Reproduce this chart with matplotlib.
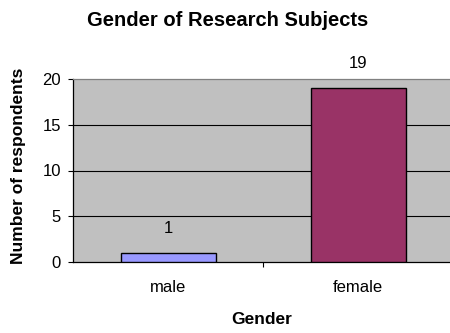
import matplotlib
matplotlib.use("Agg")
import matplotlib.pyplot as plt

categories = ["male", "female"]
counts = [1, 19]
bar_colors = ["#9999FF", "#993366"]
y_ticks = [0, 5, 10, 15, 20]

plt.rcParams['font.family'] = ['Liberation Sans', 'DejaVu Sans']

fig = plt.figure(figsize=(4.5, 3.33), dpi=100)
ax = fig.add_axes([73 / 450, 1 - 262 / 333, 380 / 450, (262 - 79) / 333])
ax.set_facecolor("#C0C0C0")

x = list(range(len(categories)))
bars = ax.bar(x, counts, width=0.5, color=bar_colors, edgecolor="black",
              linewidth=1.0, zorder=3)

for xi, v in zip(x, counts):
    ax.annotate(str(v), (xi, v), xytext=(0, 17.5), textcoords="offset points",
                ha="center", va="center", fontsize=12)

ax.set_xlim(-0.5, len(categories) - 0.5)
ax.set_ylim(0, 20)
ax.set_yticks(y_ticks)
ax.tick_params(axis="y", direction="out", length=3.6, width=0.8, labelsize=12, pad=5)

# major tick between categories, category names on minor ticks
ax.set_xticks([0.5])
ax.set_xticklabels([""])
ax.set_xticks(x, minor=True)
ax.set_xticklabels(categories, minor=True)
ax.tick_params(axis="x", which="major", direction="out", length=3.6, width=0.8)
ax.tick_params(axis="x", which="minor", length=0, labelsize=12, pad=13)

for yv in y_ticks[1:-1]:
    ax.axhline(yv, color="black", linewidth=0.8, zorder=1)

ax.spines["left"].set_color("black")
ax.spines["bottom"].set_color("black")
ax.spines["top"].set_color("#808080")
ax.spines["right"].set_color("#808080")
for s in ax.spines.values():
    s.set_linewidth(0.9)

fig.text(228 / 450, 1 - 26 / 333, "Gender of Research Subjects", ha="center",
         va="baseline", fontsize=14.5, fontweight="bold")
fig.text(19 / 450, 1 - 166 / 333, "Number of respondents", ha="center",
         va="center", rotation=90, fontsize=12.5, fontweight="bold")
fig.text(262 / 450, 1 - 320 / 333, "Gender", ha="center", va="center",
         fontsize=12.5, fontweight="bold")

fig.savefig("out.png", dpi=100)
